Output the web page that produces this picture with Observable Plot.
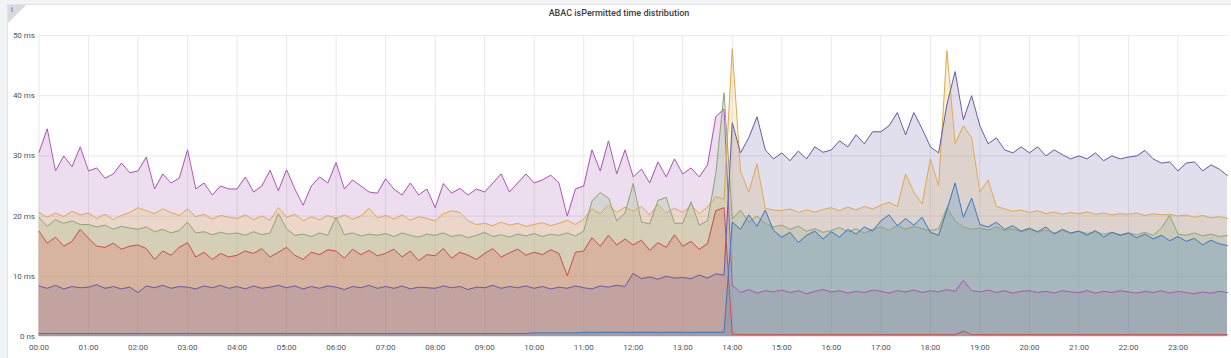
<!DOCTYPE html>
<html>
<head>
<meta charset="utf-8">
<script src="https://cdn.jsdelivr.net/npm/d3@7"></script>
<script src="https://cdn.jsdelivr.net/npm/@observablehq/plot@0.6"></script>
<style>
  html, body { margin: 0; padding: 0; background: #f2f3f5; }
  #wrap { position: relative; width: 1231px; height: 358px; overflow: hidden; background: #f2f3f5; font-family: Roboto, "Noto Sans", sans-serif; }
  #panel { position: absolute; left: 7px; top: 4px; width: 1240px; height: 370px; background: #fff; border: 1px solid #e2e3e7; box-sizing: border-box; }
  #corner { position: absolute; left: 8px; top: 5px; width: 0; height: 0; border-top: 18px solid #d9dadf; border-right: 18px solid transparent; }
  #cornerI { position: absolute; left: 11px; top: 5px; font-size: 8px; color: #666; font-family: Roboto, sans-serif; }
  #title { position: absolute; left: 0; top: 8px; width: 1238px; text-align: center; font-size: 9px; font-weight: 500; color: #3b3d42; }
  #chart { position: absolute; left: 0; top: 0; }
</style>
</head>
<body>
<div id="wrap">
  <div id="panel"></div>
  <div id="corner"></div>
  <div id="cornerI">i</div>
  <div id="title">ABAC isPermitted time distribution</div>
  <div id="chart"></div>
</div>
<script>
// x categories: every 10 minutes from 00:00 to 24:00 (hours)
const times = d3.range(145).map(i => i / 6);
const hourTicks = d3.range(0, 24);
const yTicks = [0, 10, 20, 30, 40, 50];

const purple = [
30.6,34.5,27.5,30,28.2,31.5,
27.5,28,26.3,27,28.8,27.2,
27.5,29.8,24.5,27,25.5,26.3,
31,24.5,25.5,23.5,25,24.5,
24.5,26.5,24,25,27.6,24.2,
27.7,24.5,21.8,25,26.5,25.5,
28.9,24.5,26,25,24,23.8,
26.2,24.5,23.5,25.5,23.5,24.5,
21.4,25.4,23.8,24.6,23.5,24.5,
24,25.5,27,24,25.5,27,
25.5,26,26.8,25.5,20,24.5,
25,31,27.5,32.5,27,31,
26.5,27.8,25.5,29,26.5,29.5,
27,28,26.5,28.5,36.5,37.8,
8.5,7.3,7.8,7.2,7.6,7.4,
7.7,7.3,7.6,7.1,7.5,7.8,
7.4,7.6,7.2,7.5,7.3,7.7,
7.5,7.2,7.6,7.4,7.7,7.3,
7.6,7.4,7.8,7.5,9.3,7.6,
7.4,7.7,7.3,7.6,7.2,7.5,
7.6,7.3,7.5,7.2,7.6,7.4,
7.3,7.6,7.2,7.5,7.3,7.6,
7.4,7.2,7.5,7.3,7.6,7.2,
7.5,7.3,7.1,7.4,7.2,7.5,
7.3];

const orange = [
20.6,19.8,20.5,19.9,20.8,20.2,
20.5,19.6,20.3,19.4,20.1,20.6,
21.4,20.9,20.4,21.2,20.6,20.1,
21.2,19.9,20.3,19.5,20.1,19.8,
19.6,20.2,19.4,20,19.3,21.4,
19.8,20.3,19.2,19.9,19.4,20.1,
19.6,20.2,19.5,20,21.3,19.7,
20.1,19.5,20.2,19.3,19.9,19.6,
19.2,20.4,20.9,20.6,19.2,18.6,
18.8,18.4,19,18.5,18.8,18.3,
18.6,18.9,18.4,18.8,19.3,18.6,
19.5,21.2,20.4,21.8,20.6,21.5,
20.8,21.6,20.2,21.9,20.5,21.3,
20.6,21.8,20.4,21.5,23.2,22.8,
47.8,27.5,24,28.7,21.3,21,
20.9,21.2,20.6,21,20.7,21.1,
21.4,20.9,21.5,21,21.6,21.2,
21.8,22.3,21.6,27,24,22,
29.5,25,47.5,32,35,33,
24,26,21.6,21.2,20.8,21,
20.6,20.9,20.4,20.7,20.3,20.6,
20.4,20.7,20.3,20.5,20.2,20.4,
20.3,20.5,20.1,20.4,20.2,20.3,
20,20.2,19.8,20.1,19.7,19.9,
19.6];

const green = [
19.8,18.3,19.4,18.8,19.2,18.6,
18.6,18.2,18.5,17.8,18.3,18,
17.8,18.2,17.4,17.8,17.2,17.6,
19,17.2,17.4,16.9,17.3,17,
17.2,16.8,17.4,16.9,17.2,20.4,
17.9,16.8,17,16.6,17.2,16.8,
19.8,16.9,17.2,16.7,17,16.8,
17.1,16.6,17.2,16.8,16.5,17,
16.8,17.2,16.6,16.9,16.4,16.8,
17.3,16.6,16.9,16.5,17,16.7,
17.1,16.6,17,16.8,17.2,16.7,
17.5,22.5,23.9,23,19.2,20.5,
25.4,19,18.7,22.6,23.1,18.8,
18.8,22.4,18.5,19.2,27,40.5,
19.5,21,19,20,18.8,18.2,
18.5,17.8,18.3,17.5,17.9,17.3,
17.6,18.1,17.4,17.9,17.2,17.8,
18.2,17.6,18.5,17.8,18.3,17.9,
17.6,17.9,21.4,19.2,18.2,17.8,
18,17.7,18.2,17.6,17.9,17.4,
17.8,17.3,17.7,17.2,17.6,17.1,
17.5,17.1,17.4,17,17.3,16.9,
17.2,16.9,17.3,16.8,18,20.1,
17,16.8,17.2,16.7,17,16.6,
16.8];

const red = [
17.5,15.5,16.5,15,15.8,17.8,
16.3,15,14.8,15.5,14.5,15,
15.2,14.6,12.8,14.2,13.5,14.8,
15.6,13.2,14,12.8,13.8,13.2,
13.5,14.2,13.8,14.6,13.2,14,
14.8,13.5,12.8,14,13.6,14.4,
14.2,13,14.5,13.6,14.3,13.4,
13.8,14.5,13.2,14.2,12.6,13.6,
13.4,14.6,13,14,13.5,12.8,
13.8,14.6,13.2,13.9,14.5,13.5,
14,13.6,14.4,13.8,10.1,14,
14.2,16.4,15,16.8,15.2,16.2,
15.2,16,14.3,15.6,14.8,16.9,
15,15.8,14.5,15.4,20.9,21.4,
0.4,0.3,0.3,0.3,0.3,0.3,
0.3,0.3,0.3,0.3,0.3,0.3,
0.3,0.3,0.3,0.3,0.3,0.3,
0.3,0.3,0.3,0.3,0.3,0.3,
0.3,0.3,0.3,0.3,0.9,0.3,
0.3,0.3,0.3,0.3,0.3,0.3,
0.3,0.3,0.3,0.3,0.3,0.3,
0.3,0.3,0.3,0.3,0.3,0.3,
0.3,0.3,0.3,0.3,0.3,0.3,
0.3,0.3,0.3,0.3,0.3,0.3,
0.3];

const violet = [
8.4,8,8.5,7.9,8.3,8.1,
8.2,8.6,8,8.3,7.9,8.2,
7.3,8.4,8.1,8.5,8,8.3,
8.2,7.9,8.4,8.1,8.5,8,
8.3,7.9,8.4,8,8.2,8.5,
8.1,8.4,7.9,8.3,8,8.4,
8.2,7.8,8.3,8.1,8.5,8,
8.3,8,8.4,7.9,8.2,8.1,
8,8.4,8.1,8.3,7.8,8.2,
8.1,8.5,8,8.3,8.1,8.4,
8,8.3,7.9,8.2,8,8.4,
8.1,7.9,8.4,8.2,8.5,8.3,
10.5,9.6,9.9,9.5,10,9.7,
9.8,9.6,10.2,9.7,10.4,10.2,
35.5,30.5,33,36.5,31,29.5,
30.5,29.2,30.8,29.5,31.5,30.6,
31,32.5,31.5,33.5,32,34,
34,35,37.2,33.5,37.2,34.5,
31.5,30.5,38.5,44,36,40,
35,32,33,31,30.5,31.5,
30.5,31.5,30,31,30.2,29.5,
30,29.5,30.5,29.2,30,29.5,
29.8,30,30.9,29.5,28.8,29,
27.5,28.8,29,27.5,28.5,27.8,
26.7];

const blue = [
0.5,0.5,0.5,0.5,0.5,0.5,
0.5,0.5,0.5,0.5,0.5,0.5,
0.5,0.5,0.5,0.5,0.5,0.5,
0.5,0.5,0.5,0.5,0.5,0.5,
0.5,0.5,0.5,0.5,0.5,0.5,
0.5,0.5,0.5,0.5,0.5,0.5,
0.5,0.5,0.5,0.5,0.5,0.5,
0.5,0.5,0.5,0.5,0.5,0.5,
0.5,0.5,0.5,0.5,0.5,0.5,
0.5,0.5,0.5,0.5,0.5,0.5,
0.6,0.6,0.6,0.6,0.6,0.6,
0.7,0.7,0.7,0.7,0.7,0.7,
0.7,0.7,0.7,0.7,0.7,0.7,
0.7,0.7,0.7,0.7,0.7,0.7,
19,17.8,20.2,18.3,21,17.6,
16.5,17.3,15.6,16.8,17.5,16.2,
17.4,16.5,17.8,17,18.2,17.5,
19.2,20.2,18.4,19.6,18.5,19.8,
17.3,16.8,21,25.5,19.8,23,
18.6,18.2,19,17.8,18.4,17.5,
18,17.4,18.2,17,17.8,17.2,
17.5,16.8,17.6,16.5,17.3,16.8,
17.2,16.4,17,16.2,16.8,15.9,
16.6,15.8,16.3,15.2,16,15.4,
15.1];

const seriesList = [
  {name: "purple", values: purple, fill: "#9F58B0", stroke: "#AE55B6"},
  {name: "orange", values: orange, fill: "#EAB839", stroke: "#E2A852"},
  {name: "green",  values: green,  fill: "#7EB26D", stroke: "#8FA677"},
  {name: "red",    values: red,    fill: "#E24D42", stroke: "#CE4E4A"},
  {name: "violet", values: violet, fill: "#705DA0", stroke: "#6A5CA6"},
  {name: "blue",   values: blue,   fill: "#1F78C1", stroke: "#3A7AC2"}
];

const tables = seriesList.map(s => ({...s, data: times.map((t, i) => ({t, v: s.values[i]}))}));

const marks = [
  Plot.ruleY(yTicks, {stroke: "#e9e9ec"}),
  Plot.ruleX(hourTicks, {stroke: "#e9e9ec"}),
  ...tables.map(s => Plot.areaY(s.data, {x: "t", y1: 0, y2: "v", fill: s.fill, fillOpacity: 0.2})),
  ...tables.map(s => Plot.lineY(s.data, {x: "t", y: "v", stroke: s.stroke, strokeWidth: 1}))
];

const chart = Plot.plot({
  width: 1231,
  height: 358,
  marginLeft: 38.5,
  marginRight: 4,
  marginTop: 35,
  marginBottom: 22,
  style: {background: "transparent", fontFamily: "Roboto, sans-serif", fontSize: "8px", color: "#52545c"},
  x: {domain: [0, 24], ticks: hourTicks, tickSize: 0, tickPadding: 8, label: null,
      tickFormat: d => String(d).padStart(2, "0") + ":00"},
  y: {domain: [0, 50], ticks: yTicks, tickSize: 0, tickPadding: 4, label: null,
      tickFormat: d => d === 0 ? "0 ns" : d + " ms"},
  marks
});
document.getElementById("chart").appendChild(chart);
</script>
</body>
</html>
